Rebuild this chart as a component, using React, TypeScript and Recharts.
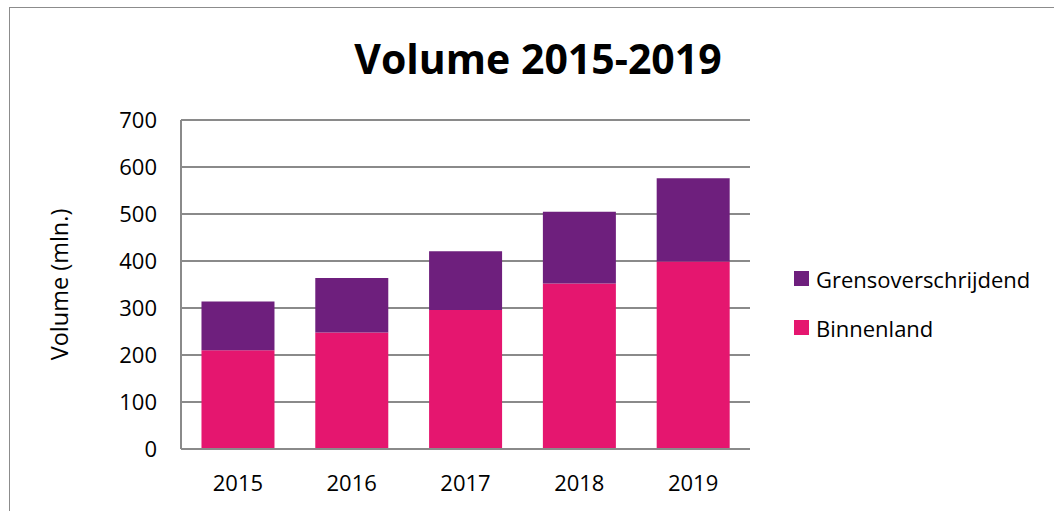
import { BarChart, Bar, XAxis, YAxis, CartesianGrid } from "recharts";

const years = ["2015", "2016", "2017", "2018", "2019"];
const binnenland = [210, 248, 296, 352, 399];
const grensoverschrijdend = [104, 116, 125, 153, 177];
const yTicks = [0, 100, 200, 300, 400, 500, 600, 700];

const data = years.map((year, i) => ({
  year,
  Binnenland: binnenland[i],
  Grensoverschrijdend: grensoverschrijdend[i],
}));

const FONT = "'Open Sans', sans-serif";
const GRID = "#8a8a8a";
const COLORS = { Binnenland: "#E5166F", Grensoverschrijdend: "#6E1F7D" };

// legend lists the top segment first, like the original
const legendItems = ["Grensoverschrijdend", "Binnenland"] as const;

export default function App() {
  return (
    <div style={{ position: "fixed", left: 0, top: 0, width: 1054, height: 511, overflow: "hidden", background: "#fff" }}>
      <div style={{ position: "absolute", left: 9, top: 7, width: 1200, height: 700, border: "1.5px solid #8c8c8c" }} />
      <div
        style={{
          position: "absolute",
          left: 0,
          width: 1076,
          top: 29,
          textAlign: "center",
          fontFamily: FONT,
          fontWeight: 700,
          fontSize: 41,
          lineHeight: "58px",
          color: "#000",
        }}
      >
        Volume 2015-2019
      </div>
      <div style={{ position: "absolute", left: 0, top: 0 }}>
        <BarChart
          width={1054}
          height={511}
          data={data}
          margin={{ top: 120, right: 304, bottom: 32, left: 0 }}
          barCategoryGap="18%"
        >
          <CartesianGrid vertical={false} stroke={GRID} strokeWidth={2} />
          <XAxis
            dataKey="year"
            height={30}
            tickLine={false}
            axisLine={{ stroke: GRID, strokeWidth: 2 }}
            tick={{ fontSize: 22, fill: "#000", fontFamily: FONT }}
            tickMargin={20}
          />
          <YAxis
            width={181}
            domain={[0, 700]}
            ticks={yTicks}
            interval={0}
            tickLine={false}
            axisLine={{ stroke: GRID, strokeWidth: 2 }}
            tick={{ fontSize: 22, fill: "#000", fontFamily: FONT }}
            tickMargin={18}
            label={{
              value: "Volume (mln.)",
              angle: -90,
              position: "insideLeft",
              dx: 55,
              style: { textAnchor: "middle", fontSize: 23.5, fill: "#000", fontFamily: FONT },
            }}
          />
          <Bar dataKey="Binnenland" stackId="a" fill={COLORS.Binnenland} isAnimationActive={false} />
          <Bar dataKey="Grensoverschrijdend" stackId="a" fill={COLORS.Grensoverschrijdend} isAnimationActive={false} />
        </BarChart>
      </div>
      <div style={{ position: "absolute", left: 794, top: 254, fontFamily: FONT, fontSize: 22, color: "#000" }}>
        {legendItems.map((name) => (
          <div key={name} style={{ display: "flex", alignItems: "center", height: 49 }}>
            <span style={{ width: 15, height: 15, background: COLORS[name], marginRight: 7, display: "inline-block" }} />
            <span>{name}</span>
          </div>
        ))}
      </div>
    </div>
  );
}
